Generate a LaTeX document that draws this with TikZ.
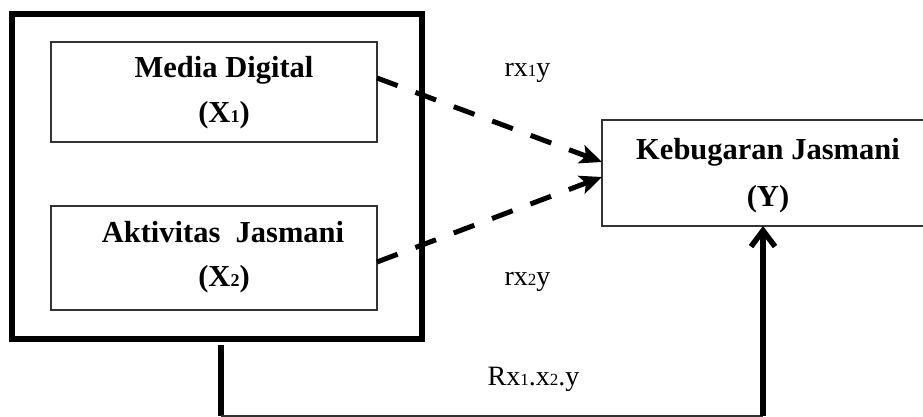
\documentclass[tikz,border=0pt]{standalone}
\usepackage{fontspec}
\setmainfont{Liberation Serif}
\usetikzlibrary{arrows.meta}
\newcommand\dg[2]{{\fontsize{#1}{#1}\selectfont #2}}
\begin{document}
\begin{tikzpicture}[x=1pt,y=-1pt,
  thinbox/.style={draw=black!80,line width=1.4pt,rectangle,inner sep=0pt,outer sep=0pt},
  boxtext/.style={font=\fontsize{30.5}{36}\selectfont\bfseries,anchor=base,inner sep=0pt},
  lab/.style={font=\fontsize{28}{34}\selectfont,anchor=base,inner sep=0pt},
  dasharrow/.style={line width=5pt,dash pattern=on 22pt off 19pt,-{Stealth[length=22pt,width=19pt,inset=5pt]}},
  thickline/.style={line width=5.5pt},
  thinline/.style={line width=1.4pt,draw=black!80}]
\useasboundingbox (0,0) rectangle (923,417);
\clip (0,0) rectangle (923,417);
% outer frame
\node[draw,line width=6pt,rectangle,minimum width=410pt,minimum height=325pt,inner sep=0pt,outer sep=0pt] (outer) at (217,176.5) {};
% inner boxes
\node[thinbox,minimum width=326pt,minimum height=100pt] (x1) at (214,92) {};
\node[thinbox,minimum width=326pt,minimum height=104pt] (x2) at (214,258) {};
\node[thinbox,minimum width=333pt,minimum height=106pt] (y) at (768.5,173) {};
% box texts
\node[boxtext] (x1a) at (224,78) {Media Digital};
\node[boxtext] (x1b) at (224,122) {(X\dg{18}{1})};
\node[boxtext] (x2a) at (223,242) {Aktivitas\ \ Jasmani};
\node[boxtext] (x2b) at (224,286) {(X\dg{18}{2})};
\node[boxtext] (ya) at (768,159) {Kebugaran Jasmani};
\node[boxtext] (yb) at (768,206) {(Y)};
% labels
\node[lab] (l1) at (527.5,77) {rx\dg{17}{1}y};
\node[lab] (l2) at (527.5,285) {rx\dg{17}{2}y};
\node[lab] (l3) at (533.5,385) {Rx\dg{17}{1}.x\dg{17}{2}.y};
% dashed arrows
\draw[dasharrow] ([yshift=14pt]x1.east) -- ([yshift=11pt]y.west);
\draw[dasharrow] ([yshift=-4pt]x2.east) -- ([yshift=-4pt]y.west);
% bottom connector
\coordinate (c1) at (221,416);
\coordinate (c2) at (763,416);
\draw[thickline] ([xshift=4pt,yshift=-6pt]outer.south) -- (c1);
\draw[thinline] (c1) -- (c2);
\draw[thickline,-{Straight Barb[length=16pt,width=24pt]}] (c2) -- (c2 |- y.south);
\end{tikzpicture}
\end{document}
